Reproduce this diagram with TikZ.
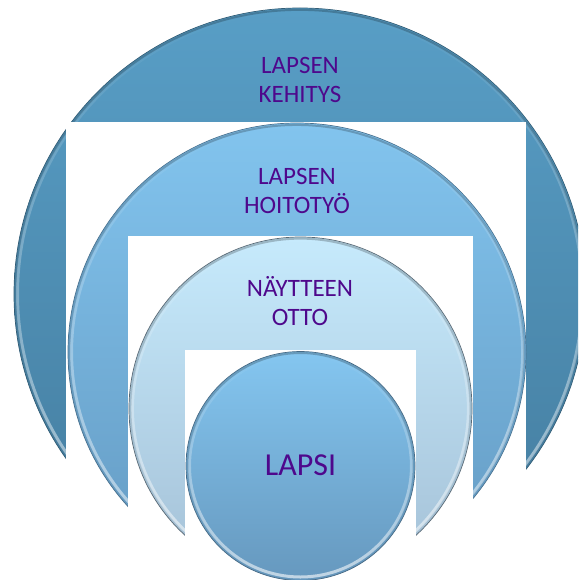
\documentclass[tikz,border=0pt]{standalone}
\usepackage{fontspec}
\setmainfont{Carlito}
\usetikzlibrary{fadings}
\definecolor{txt}{RGB}{78,8,140}
\definecolor{aTop}{RGB}{88,158,198}
\definecolor{aBot}{RGB}{68,124,158}
\definecolor{bTop}{RGB}{130,196,238}
\definecolor{bBot}{RGB}{100,154,194}
\definecolor{cTop}{RGB}{198,234,252}
\definecolor{cBot}{RGB}{164,192,214}
\definecolor{dTop}{RGB}{132,198,240}
\definecolor{dBot}{RGB}{102,152,190}
\begin{document}
\begin{tikzpicture}[x=1pt,y=1pt,
  disc/.style={circle, minimum size=#1, inner sep=0pt, line width=0.7pt},
  rim/.style={draw=white, line width=3pt, opacity=0.6, path fading=north},
  shadowrim/.style={draw=black, line width=2pt, opacity=0.22, path fading=south},
  cutout/.style={fill=white, draw=none},
  lbl/.style={text=txt, align=center, inner sep=0pt, font=\fontsize{25}{29}\selectfont}]
\useasboundingbox (0,0) rectangle (578,-580);
\clip (0,0) rectangle (578,-580);
% outer ring
\node[disc=572pt, top color=aTop, bottom color=aBot, draw=aBot!75!black] (c1) at (300,-294) {};
\draw[rim] (c1.center) circle (282.5);
\draw[shadowrim] (c1.center) circle (284.5);
\fill[cutout] (66,-122) rectangle (526,-581);
% second ring
\node[disc=458pt, top color=bTop, bottom color=bBot, draw=bBot!75!black] (c2) at (297,-352) {};
\draw[rim] (c2.center) circle (225.5);
\draw[shadowrim] (c2.center) circle (227.5);
\fill[cutout] (128,-236) rectangle (473,-581);
% third ring
\node[disc=343pt, top color=cTop, bottom color=cBot, draw=cBot!55!black] (c3) at (300.5,-408.5) {};
\draw[rim] (c3.center) circle (168);
\draw[shadowrim] (c3.center) circle (170);
\fill[cutout] (185,-350) rectangle (416,-581);
% centre disc
\node[disc=229pt, top color=dTop, bottom color=dBot, draw=dBot!70!black] (c4) at (300.5,-466) {};
\draw[rim] (c4.center) circle (111);
\draw[shadowrim] (c4.center) circle (113);
% labels
\node[lbl] (t1) at (300,-80) {LAPSEN\\KEHITYS};
\node[lbl] (t2) at (297,-191) {LAPSEN\\HOITOTYÖ};
\node[lbl] (t3) at (300,-301) {NÄYTTEEN\\OTTO};
\node[lbl, font=\fontsize{32}{36}\selectfont] (t4) at (300.5,-465) {LAPSI};
\end{tikzpicture}
\end{document}
